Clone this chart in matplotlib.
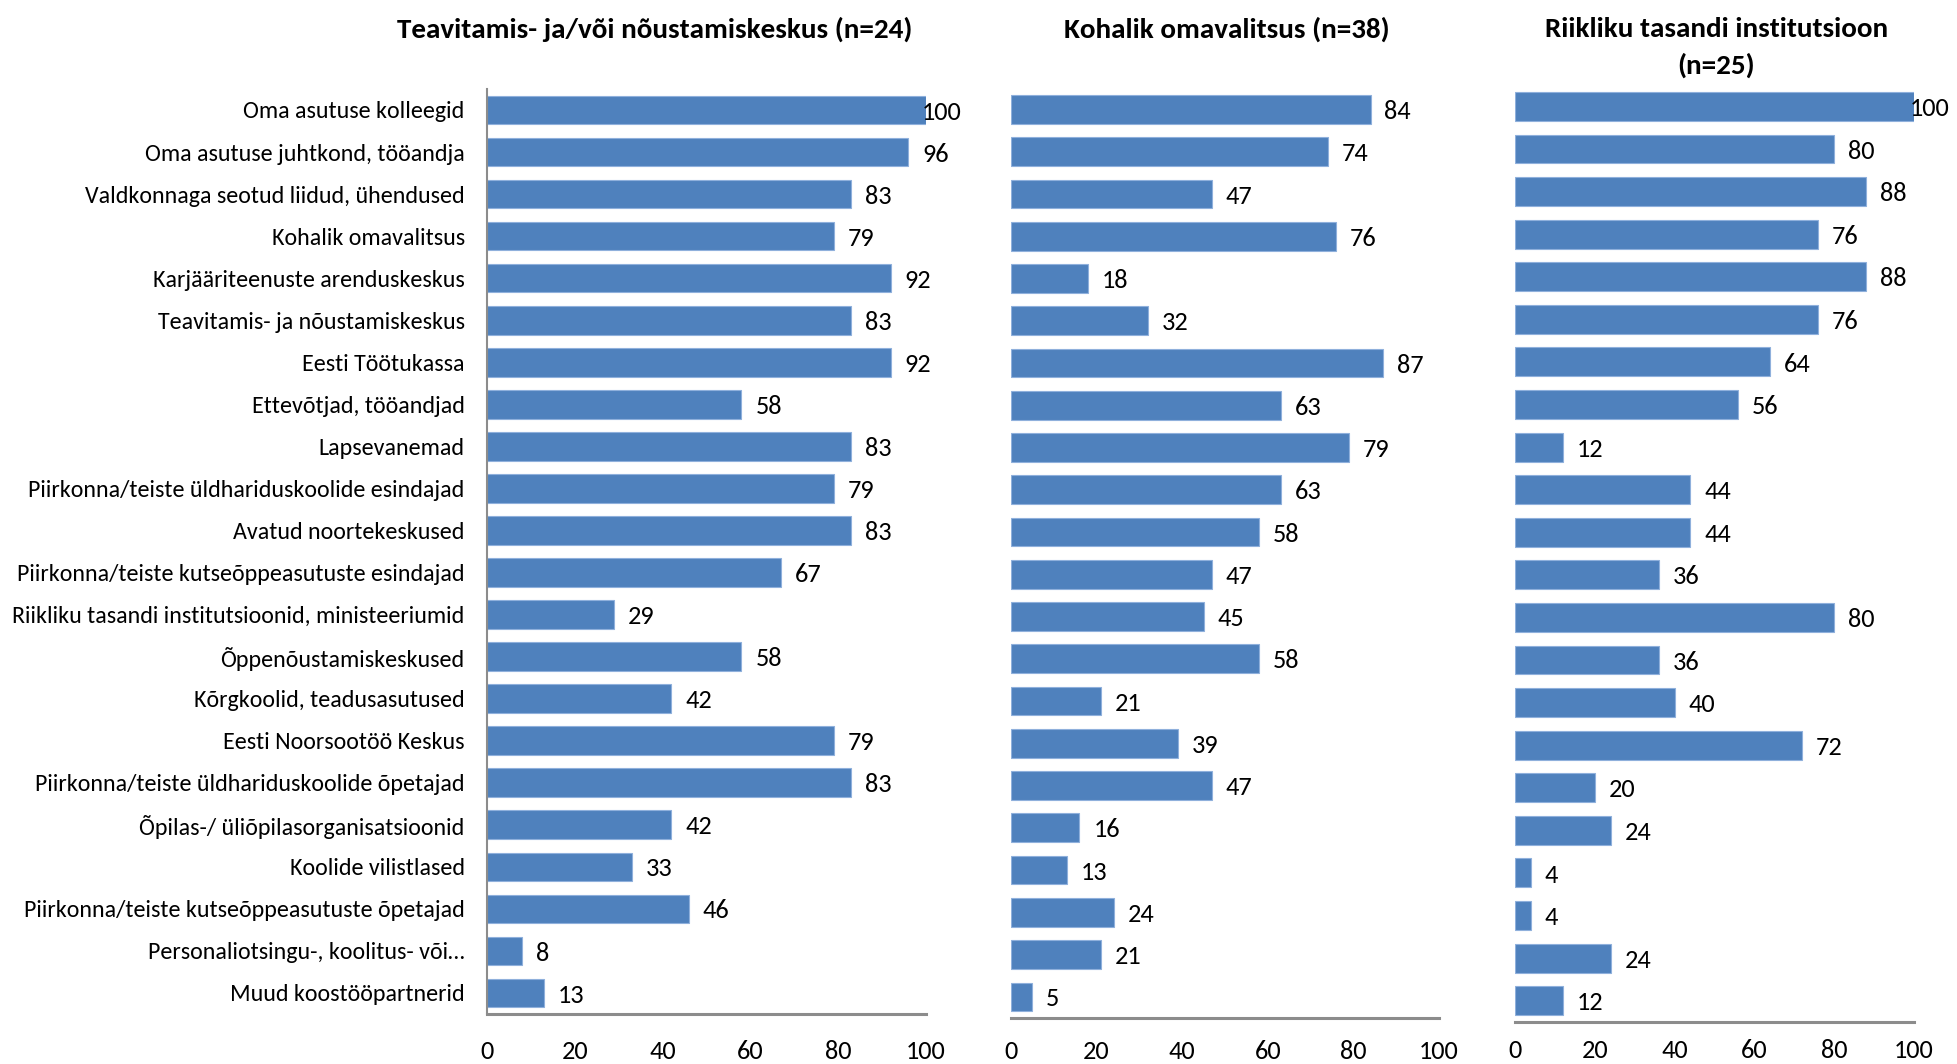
import numpy as np
import matplotlib.pyplot as plt

plt.rcParams['font.family'] = ['Carlito', 'Archivo Narrow', 'DejaVu Sans']

categories = ['Oma asutuse kolleegid', 'Oma asutuse juhtkond, tööandja',
              'Valdkonnaga seotud liidud, ühendused', 'Kohalik omavalitsus',
              'Karjääriteenuste arenduskeskus', 'Teavitamis- ja nõustamiskeskus',
              'Eesti Töötukassa', 'Ettevõtjad, tööandjad', 'Lapsevanemad',
              'Piirkonna/teiste üldhariduskoolide esindajad', 'Avatud noortekeskused',
              'Piirkonna/teiste kutseõppeasutuste esindajad',
              'Riikliku tasandi institutsioonid, ministeeriumid', 'Õppenõustamiskeskused',
              'Kõrgkoolid, teadusasutused', 'Eesti Noorsootöö Keskus',
              'Piirkonna/teiste üldhariduskoolide õpetajad',
              'Õpilas-/ üliõpilasorganisatsioonid', 'Koolide vilistlased',
              'Piirkonna/teiste kutseõppeasutuste õpetajad',
              'Personaliotsingu-, koolitus- või…', 'Muud koostööpartnerid']

teavitamis = [100, 96, 83, 79, 92, 83, 92, 58, 83, 79, 83, 67, 29, 58, 42, 79, 83, 42, 33, 46, 8, 13]
omavalitsus = [84, 74, 47, 76, 18, 32, 87, 63, 79, 63, 58, 47, 45, 58, 21, 39, 47, 16, 13, 24, 21, 5]
riiklik = [100, 80, 88, 76, 88, 76, 64, 56, 12, 44, 44, 36, 80, 36, 40, 72, 20, 24, 4, 4, 24, 12]

titles = ['Teavitamis- ja/või nõustamiskeskus (n=24)', 'Kohalik omavalitsus (n=38)',
          'Riikliku tasandi institutsioon\n(n=25)']
xticks = [0, 20, 40, 60, 80, 100]

fig = plt.figure(figsize=(19.57, 10.64), dpi=100)

# axes boxes in figure fractions
boxes = [[0.2488, 0.047, 0.2243, 0.8694],
         [0.5166, 0.0432, 0.2187, 0.8738],
         [0.7741, 0.0395, 0.2039, 0.8805]]
tick_pad = [19, 16, 12]
title_pos = [(0.3347, 0.984), (0.627, 0.984), (0.877, 0.984)]

y = np.arange(len(categories))
for i, vals in enumerate([teavitamis, omavalitsus, riiklik]):
    ax = fig.add_axes(boxes[i])
    ax.barh(y, vals, height=0.68, color='#4f81bd', edgecolor='#8fb0dc', linewidth=0.8)
    for yy, v in zip(y, vals):
        if v >= 100:
            ax.annotate(str(v), (v, yy), xytext=(-3, -1.5), textcoords='offset points',
                        ha='left', va='center', fontsize=19)
        else:
            ax.annotate(str(v), (v, yy), xytext=(10, -1.5), textcoords='offset points',
                        ha='left', va='center', fontsize=19)
    ax.set_xlim(0, 100)
    ax.set_ylim(len(categories) - 0.5, -0.5)
    ax.set_xticks(xticks)
    ax.tick_params(axis='x', length=0, pad=tick_pad[i], labelsize=19)
    ax.tick_params(axis='y', length=0)
    if i == 0:
        ax.set_yticks(y)
        ax.set_yticklabels(categories, fontsize=17.3)
        ax.tick_params(axis='y', pad=16)
        ax.spines['left'].set_color('#8c8c8c')
        ax.spines['left'].set_linewidth(1.5)
    else:
        ax.set_yticks([])
        ax.spines['left'].set_visible(False)
    ax.spines['top'].set_visible(False)
    ax.spines['right'].set_visible(False)
    ax.spines['bottom'].set_color('#8c8c8c')
    ax.spines['bottom'].set_linewidth(2.2)
    fig.text(title_pos[i][0], title_pos[i][1], titles[i], ha='center', va='top',
             fontsize=21, fontweight='bold', linespacing=1.55)

plt.savefig('out.png', dpi=100)
